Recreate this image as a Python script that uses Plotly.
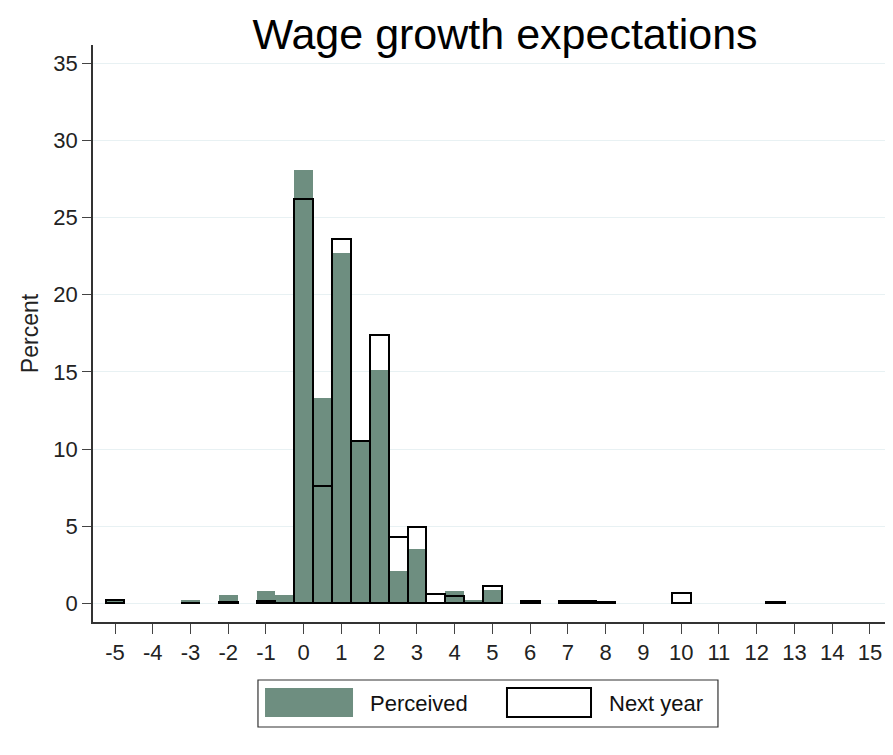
import plotly.graph_objects as go

# Bin centers (bin width 0.5)
bins = [-5, -3, -2, -1, -0.5, 0, 0.5, 1, 1.5, 2, 2.5, 3, 3.5, 4, 4.5, 5, 6, 7, 7.5, 8, 10, 12.5]
perceived = [0.15, 0.22, 0.54, 0.8, 0.54, 28.1, 13.3, 22.7, 10.5, 15.1, 2.1, 3.5, 0.0, 0.8, 0.22, 0.9,
             0.12, 0.12, 0.12, 0.1, 0.0, 0.1]
next_year = [0.2, 0.0, 0.12, 0.17, 0.0, 26.2, 7.6, 23.6, 10.5, 17.4, 4.3, 4.95, 0.6, 0.47, 0.0, 1.15,
             0.17, 0.17, 0.17, 0.1, 0.7, 0.1]
x_ticks = list(range(-5, 16))
y_ticks = [0, 5, 10, 15, 20, 25, 30, 35]

GREEN = "#6E8E80"
FONT = "Liberation Sans, Arial, sans-serif"

fig = go.Figure()
fig.add_trace(go.Bar(x=bins, y=perceived, width=0.5, name="Perceived",
                     marker=dict(color=GREEN, line=dict(width=0)), showlegend=False))
fig.add_trace(go.Bar(x=bins, y=next_year, width=0.5, name="Next year",
                     marker=dict(color="rgba(0,0,0,0)", line=dict(color="black", width=2)),
                     showlegend=False))

# The page body adds an 8px offset, so the figure is 8px smaller than the window
fig.update_layout(
    width=885, height=747,
    margin=dict(l=85, r=8, t=37, b=133, autoexpand=False),
    paper_bgcolor="white", plot_bgcolor="white",
    barmode="overlay", bargap=0,
    font=dict(family=FONT, size=22, color="#222222"),
    title=dict(text="Wage growth expectations", x=0.5616, xanchor="center", y=0.9655, yanchor="middle",
               font=dict(family=FONT, size=43, color="black")),
    xaxis=dict(range=[-5.583, 15.40], tickmode="array", tickvals=x_ticks,
               ticktext=[str(v) for v in x_ticks], automargin=False,
               showgrid=False, zeroline=False, showline=True, linecolor="#333333", linewidth=1.5,
               ticks="outside", ticklen=10, tickcolor="#444444", tickwidth=1.2,
               tickfont=dict(size=22, color="#222222")),
    yaxis=dict(range=[-1.2, 36.17], tickmode="array", tickvals=y_ticks,
               ticktext=[str(v) for v in y_ticks], automargin=False,
               showgrid=True, gridcolor="#E8F1F3", gridwidth=1.2, zeroline=False,
               showline=True, linecolor="#333333", linewidth=1.5,
               ticks="outside", ticklen=9, tickcolor="#444444", tickwidth=1.2,
               tickfont=dict(size=22, color="#222222"),
               title=dict(text="Percent", standoff=8, font=dict(size=23, color="#222222"))),
)

# Custom legend (paper coordinates)
legend_items = [("Perceived", GREEN, None, 0.2172, 0.3283, 0.3472),
                ("Next year", "white", "black", 0.5227, 0.6288, 0.649)]
fig.add_shape(type="rect", xref="paper", yref="paper", x0=0.2083, x1=0.7891, y0=-0.182, y1=-0.1005,
              line=dict(color="#333333", width=1.2), fillcolor="white")
for name, fill, outline, x0, x1, tx in legend_items:
    fig.add_shape(type="rect", xref="paper", yref="paper", x0=x0, x1=x1, y0=-0.1646, y1=-0.1144,
                  fillcolor=fill,
                  line=dict(color=outline if outline else fill, width=2 if outline else 0))
    fig.add_annotation(xref="paper", yref="paper", x=tx, y=-0.1404, text=name, showarrow=False,
                       xanchor="left", yanchor="middle", font=dict(size=22, color="#111111"))

fig.write_html("out.html")
